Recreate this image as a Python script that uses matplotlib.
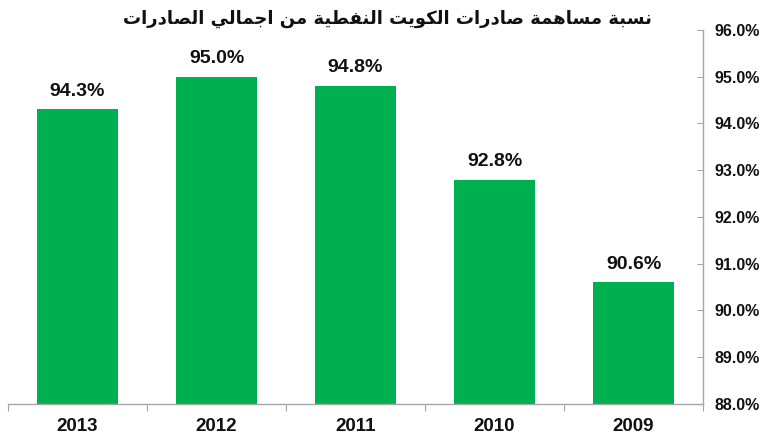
import matplotlib
matplotlib.use("Agg")
import matplotlib.pyplot as plt
from matplotlib.ticker import FuncFormatter, FixedLocator

# ---- data ----
years = ["2013", "2012", "2011", "2010", "2009"]
shares = [94.3, 95.0, 94.8, 92.8, 90.6]
y_ticks = [88.0, 89.0, 90.0, 91.0, 92.0, 93.0, 94.0, 95.0, 96.0]
title_text = "نسبة مساهمة صادرات الكويت النفطية من اجمالي الصادرات"

# ---- minimal Arabic shaping (contextual forms + RTL order) ----
FORMS = {  # isolated, final, initial, medial
    'ا': (0xFE8D, 0xFE8E, None, None),
    'ب': (0xFE8F, 0xFE90, 0xFE91, 0xFE92),
    'ة': (0xFE93, 0xFE94, None, None),
    'ت': (0xFE95, 0xFE96, 0xFE97, 0xFE98),
    'ج': (0xFE9D, 0xFE9E, 0xFE9F, 0xFEA0),
    'د': (0xFEA9, 0xFEAA, None, None),
    'ر': (0xFEAD, 0xFEAE, None, None),
    'س': (0xFEB1, 0xFEB2, 0xFEB3, 0xFEB4),
    'ص': (0xFEB9, 0xFEBA, 0xFEBB, 0xFEBC),
    'ط': (0xFEC1, 0xFEC2, 0xFEC3, 0xFEC4),
    'ف': (0xFED1, 0xFED2, 0xFED3, 0xFED4),
    'ك': (0xFED9, 0xFEDA, 0xFEDB, 0xFEDC),
    'ل': (0xFEDD, 0xFEDE, 0xFEDF, 0xFEE0),
    'م': (0xFEE1, 0xFEE2, 0xFEE3, 0xFEE4),
    'ن': (0xFEE5, 0xFEE6, 0xFEE7, 0xFEE8),
    'ه': (0xFEE9, 0xFEEA, 0xFEEB, 0xFEEC),
    'و': (0xFEED, 0xFEEE, None, None),
    'ي': (0xFEF1, 0xFEF2, 0xFEF3, 0xFEF4),
}


def shape_arabic(text):
    out = []
    n = len(text)
    for i, ch in enumerate(text):
        if ch not in FORMS:
            out.append(ch)
            continue
        iso, fin, ini, med = FORMS[ch]
        prev = text[i - 1] if i > 0 else None
        nxt = text[i + 1] if i < n - 1 else None
        prev_joins = prev in FORMS and FORMS[prev][2] is not None
        next_joins = ini is not None and nxt in FORMS
        if prev_joins and next_joins:
            code = med
        elif prev_joins:
            code = fin
        elif next_joins:
            code = ini
        else:
            code = iso
        out.append(chr(code))
    return "".join(out)[::-1]


# ---- figure ----
fig = plt.figure(figsize=(7.7, 4.47), dpi=100)
ax = fig.add_axes([0.0104, 0.0962, 0.9026, 0.8368])

green = "#00B050"
axis_gray = "#A6A6A6"
x = list(range(len(years)))
bars = ax.bar(x, shares, width=0.58, color=green, zorder=2)

ax.set_ylim(88.0, 96.0)
ax.set_xlim(-0.5, len(years) - 0.5)

font = ["Liberation Sans", "DejaVu Sans"]

for xi, v in zip(x, shares):
    ax.annotate(f"{v:.1f}%", (xi, v), xytext=(0, 7), textcoords="offset points",
                ha="center", va="bottom", fontsize=14, fontweight="bold",
                family=font, color="#111111")

# spines
ax.spines["left"].set_visible(False)
ax.spines["top"].set_visible(False)
ax.spines["right"].set_color(axis_gray)
ax.spines["bottom"].set_color(axis_gray)
ax.spines["right"].set_linewidth(1.0)
ax.spines["bottom"].set_linewidth(1.0)

# y axis on the right
ax.yaxis.tick_right()
ax.yaxis.set_major_locator(FixedLocator(y_ticks))
ax.yaxis.set_major_formatter(FuncFormatter(lambda v, p: f"{v:.1f}%"))
ax.tick_params(axis="y", direction="in", length=4, color=axis_gray, pad=8)
for lab in ax.get_yticklabels():
    lab.set_fontsize(11.5)
    lab.set_fontweight("bold")
    lab.set_family(font)
    lab.set_color("#111111")

# x axis: ticks at category boundaries, labels centered
ax.set_xticks([i - 0.5 for i in range(len(years) + 1)])
ax.set_xticklabels([])
ax.set_xticks(x, minor=True)
ax.set_xticklabels(years, minor=True, fontsize=13.5, fontweight="bold",
                   family=font, color="#111111")
ax.tick_params(axis="x", which="major", direction="out", length=5, color=axis_gray)
ax.tick_params(axis="x", which="minor", length=0, pad=10)

fig.text(0.503, 0.957, shape_arabic(title_text), ha="center", va="center",
         fontsize=13, fontweight="bold", family=["DejaVu Sans"], color="#111111")

fig.savefig("out.png", dpi=100)
